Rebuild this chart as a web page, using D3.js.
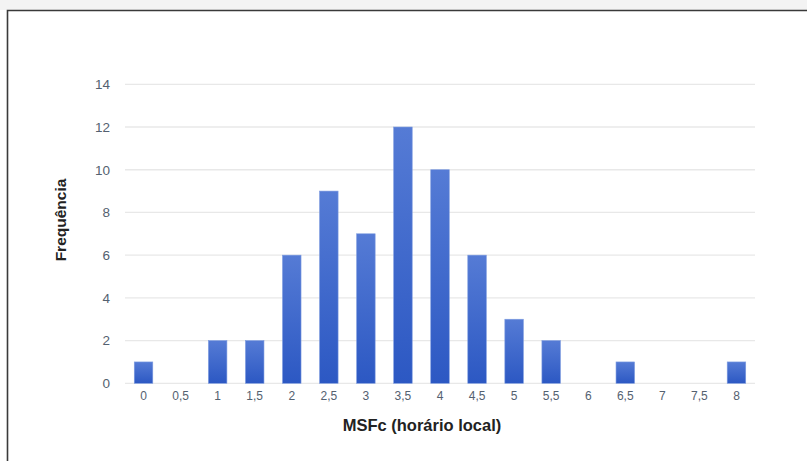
<!DOCTYPE html>
<html><head><meta charset="utf-8">
<script src="https://cdn.jsdelivr.net/npm/d3@7"></script>
<style>body{margin:0;background:#fff}svg{display:block}</style>
</head><body><svg id="c" width="807" height="461"></svg>
<script>
const categories = ["0","0,5","1","1,5","2","2,5","3","3,5","4","4,5","5","5,5","6","6,5","7","7,5","8"];
const frequencies = [1,0,2,2,6,9,7,12,10,6,3,2,0,1,0,0,1];
const yTicks = [0,2,4,6,8,10,12,14];

(function(){
const svg = d3.select("#c");
svg.append("rect").attr("x",0).attr("y",0).attr("width",807).attr("height",10).attr("fill","#f3f3f3");
svg.append("path").attr("d","M7.5,461 V10.5 H807").attr("fill","none").attr("stroke","#3a3a3a").attr("stroke-width",1.6);

const pLeft=125, pRight=755, pTop=84.3, pBottom=383.3;
const x = d3.scaleBand().domain(categories).range([pLeft,pRight]).paddingInner(0.5).paddingOuter(0.25);
const y = d3.scaleLinear().domain([0,14]).range([pBottom,pTop]);

const defs = svg.append("defs");
const g = defs.append("linearGradient").attr("id","bg").attr("x1",0).attr("y1",0).attr("x2",0).attr("y2",1);
g.append("stop").attr("offset","0%").attr("stop-color","#557bd5");
g.append("stop").attr("offset","100%").attr("stop-color","#2c58c3");

const grid = svg.append("g");
grid.selectAll("line").data(yTicks).join("line")
  .attr("x1",pLeft).attr("x2",pRight).attr("y1",d=>y(d)).attr("y2",d=>y(d))
  .attr("stroke","#e8e8e8").attr("stroke-width",1.3);

const yAxis = svg.append("g").attr("transform",`translate(${pLeft},0)`)
  .call(d3.axisLeft(y).tickValues(yTicks).tickSize(0).tickPadding(15));
yAxis.select(".domain").remove();
yAxis.selectAll("text").attr("font-family","Liberation Sans, Arial, sans-serif").attr("font-size",13.5).attr("fill","#546170");

svg.append("g").selectAll("rect").data(frequencies).join("rect")
  .attr("x",(d,i)=>x(categories[i])).attr("width",x.bandwidth())
  .attr("y",d=>y(d)).attr("height",d=>pBottom-y(d))
  .attr("fill","url(#bg)").attr("stroke","#7d9be0").attr("stroke-width",0.6);

const xAxis = svg.append("g").attr("transform",`translate(0,${pBottom})`)
  .call(d3.axisBottom(x).tickSize(0).tickPadding(8));
xAxis.select(".domain").remove();
xAxis.selectAll("text").attr("font-family","Liberation Sans, Arial, sans-serif").attr("font-size",12).attr("fill","#546170");

svg.append("text").attr("x",422).attr("y",431).attr("text-anchor","middle")
  .attr("font-family","Liberation Sans, Arial, sans-serif").attr("font-weight","bold").attr("font-size",16.5).attr("fill","#222")
  .text("MSFc (horário local)");
svg.append("text").attr("transform","translate(66,220) rotate(-90)").attr("text-anchor","middle")
  .attr("font-family","Liberation Sans, Arial, sans-serif").attr("font-weight","bold").attr("font-size",15.5).attr("fill","#222")
  .text("Frequência");
})();
</script></body></html>
